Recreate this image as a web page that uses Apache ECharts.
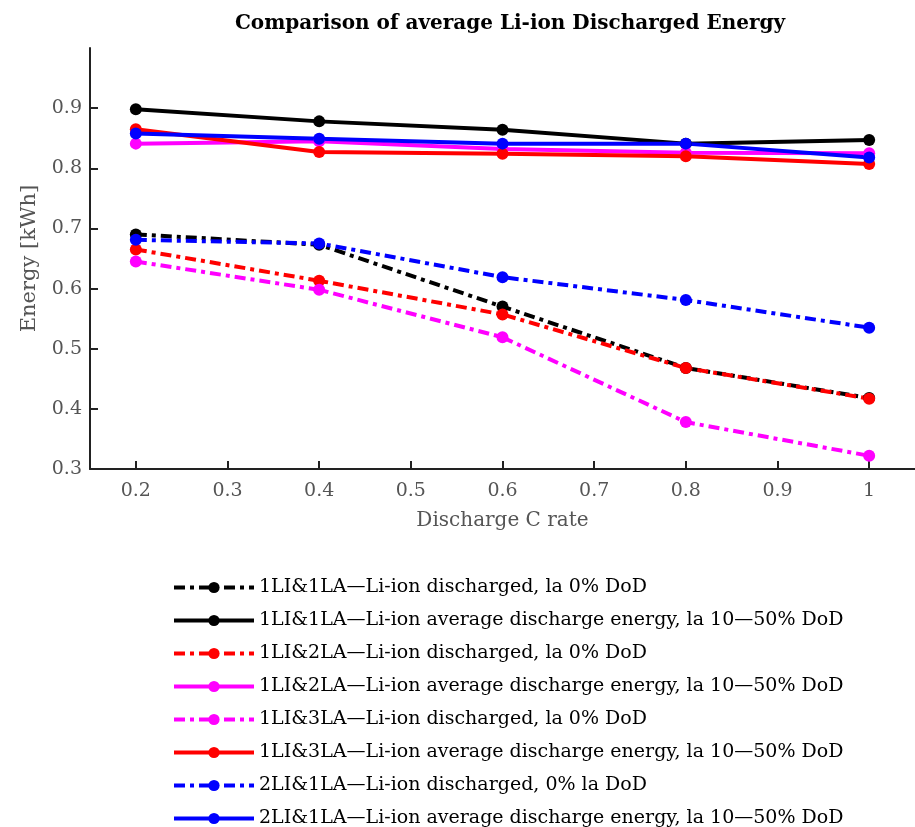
<!DOCTYPE html>
<html>
<head>
<meta charset="utf-8">
<script src="https://cdn.jsdelivr.net/npm/echarts@6/dist/echarts.min.js"></script>
<style>
  html, body { margin: 0; padding: 0; background: #fff; }
  #main { width: 915px; height: 827px; }
</style>
</head>
<body>
<div id="main"></div>
<script>
// C rates on x axis
var cRates = [0.2, 0.4, 0.6, 0.8, 1];
var xTicks = [0.2, 0.3, 0.4, 0.5, 0.6, 0.7, 0.8, 0.9, 1];
var yTicks = [0.3, 0.4, 0.5, 0.6, 0.7, 0.8, 0.9];

// energy values [kWh]
var li1la1Dis = [0.690, 0.673, 0.570, 0.468, 0.418];
var li1la1Avg = [0.898, 0.878, 0.864, 0.841, 0.847];
var li1la2Dis = [0.665, 0.613, 0.557, 0.468, 0.417];
var li1la2Avg = [0.841, 0.845, 0.832, 0.826, 0.825];
var li1la3Dis = [0.645, 0.598, 0.519, 0.378, 0.322];
var li1la3Avg = [0.865, 0.827, 0.824, 0.820, 0.807];
var li2la1Dis = [0.681, 0.675, 0.619, 0.581, 0.535];
var li2la1Avg = [0.858, 0.849, 0.841, 0.841, 0.818];

var seriesNames = [
    '1LI&1LA\u2014Li-ion discharged, la 0% DoD',
    '1LI&1LA\u2014Li-ion average discharge energy, la 10\u201450% DoD',
    '1LI&2LA\u2014Li-ion discharged, la 0% DoD',
    '1LI&2LA\u2014Li-ion average discharge energy, la 10\u201450% DoD',
    '1LI&3LA\u2014Li-ion discharged, la 0% DoD',
    '1LI&3LA\u2014Li-ion average discharge energy, la 10\u201450% DoD',
    '2LI&1LA\u2014Li-ion discharged, 0% la DoD',
    '2LI&1LA\u2014Li-ion average discharge energy, la 10\u201450% DoD'
];
var seriesValues = [li1la1Dis, li1la1Avg, li1la2Dis, li1la2Avg, li1la3Dis, li1la3Avg, li2la1Dis, li2la1Avg];
var seriesColors = ['#000000', '#000000', '#ff0000', '#ff00ff', '#ff00ff', '#ff0000', '#0000ff', '#0000ff'];
var seriesDashed = [true, false, true, false, true, false, true, false];

var serif = '"DejaVu Serif", "Liberation Serif", serif';

function makeSeries(i) {
    var pts = [];
    for (var k = 0; k < cRates.length; k++) {
        pts.push([cRates[k], seriesValues[i][k]]);
    }
    return {
        name: seriesNames[i],
        type: 'line',
        data: pts,
        symbol: 'circle',
        symbolSize: 12,
        showSymbol: true,
        itemStyle: { color: seriesColors[i] },
        lineStyle: {
            color: seriesColors[i],
            width: 4,
            type: seriesDashed[i] ? [11, 5, 4, 5] : 'solid'
        },
        emphasis: { disabled: true },
        animation: false
    };
}

var seriesList = [];
for (var i = 0; i < seriesNames.length; i++) {
    seriesList.push(makeSeries(i));
}

var myChart = echarts.init(document.getElementById('main'), null, { renderer: 'canvas' });
var option = {
    backgroundColor: '#ffffff',
    title: {
        text: 'Comparison of average Li-ion Discharged Energy',
        left: 505,
        textAlign: 'center',
        top: 9,
        textStyle: { fontFamily: serif, fontSize: 20, fontWeight: 'bold', color: '#000' }
    },
    grid: { left: 90, top: 48, right: -7, height: 421 },
    xAxis: {
        type: 'value',
        min: 0.15,
        max: 1.05,
        name: 'Discharge C rate',
        nameLocation: 'middle',
        nameGap: 42,
        nameTextStyle: { fontFamily: serif, fontSize: 20, color: '#555' },
        axisLine: { show: true, lineStyle: { color: '#222', width: 2 } },
        axisTick: { show: true, inside: true, length: 8, lineStyle: { color: '#222', width: 2 }, customValues: xTicks },
        axisLabel: { fontFamily: serif, fontSize: 19, color: '#555', margin: 13, customValues: xTicks,
            formatter: function (v) { return String(Math.round(v * 10) / 10); } },
        splitLine: { show: false }
    },
    yAxis: {
        type: 'value',
        min: 0.3,
        max: 1.0,
        name: 'Energy [kWh]',
        nameLocation: 'middle',
        nameGap: 50,
        nameTextStyle: { fontFamily: serif, fontSize: 21, color: '#555' },
        axisLine: { show: true, lineStyle: { color: '#222', width: 2 } },
        axisTick: { show: true, inside: true, length: 8, lineStyle: { color: '#222', width: 2 }, customValues: yTicks },
        axisLabel: { fontFamily: serif, fontSize: 19, color: '#555', margin: 8, customValues: yTicks,
            formatter: function (v) { return (Math.round(v * 10) / 10).toFixed(1); } },
        splitLine: { show: false }
    },
    legend: {
        orient: 'vertical',
        left: 167,
        top: 571,
        height: 320,
        itemWidth: 80,
        itemHeight: 14,
        itemGap: 10,
        data: seriesNames,
        lineStyle: { width: 4 },
        textStyle: { fontFamily: serif, fontSize: 19, color: '#000', lineHeight: 23 }
    },
    series: seriesList
};
myChart.setOption(option);
</script>
</body>
</html>
